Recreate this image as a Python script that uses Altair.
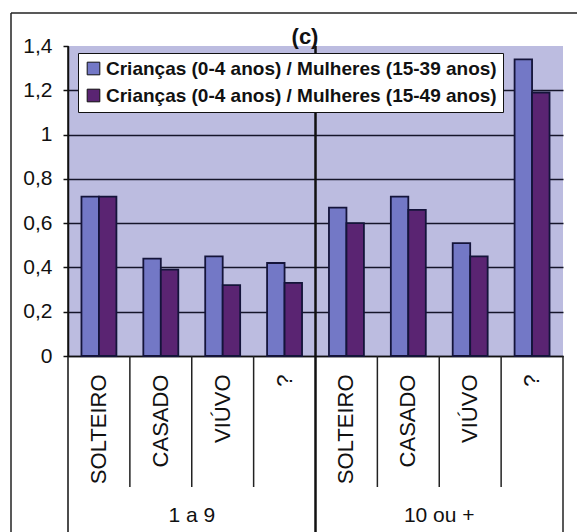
import altair as alt
import pandas as pd

# Razão crianças / mulheres por tamanho do fogo e estado civil
groups = ["1 a 9", "10 ou +"]
statuses = ["SOLTEIRO", "CASADO", "VIÚVO", "?"]
series = [
    "Crianças (0-4 anos) / Mulheres (15-39 anos)",
    "Crianças (0-4 anos) / Mulheres (15-49 anos)",
]
ratio_15_39 = [0.72, 0.44, 0.45, 0.42, 0.67, 0.72, 0.51, 1.34]
ratio_15_49 = [0.72, 0.39, 0.32, 0.33, 0.60, 0.66, 0.45, 1.19]
y_ticks = [0, 0.2, 0.4, 0.6, 0.8, 1.0, 1.2, 1.4]
colors = ["#7378c6", "#5a2472"]

FONT = "Liberation Sans"
W, H = 495, 310          # plot area
BOTTOM = 486             # down to the bottom edge of the canvas

keys = [f"{g}|{s}" for g in groups for s in statuses]
rows = []
for i, k in enumerate(keys):
    rows.append({"key": k, "serie": series[0], "valor": ratio_15_39[i]})
    rows.append({"key": k, "serie": series[1], "valor": ratio_15_49[i]})
bars_df = pd.DataFrame(rows)

x_scale = alt.Scale(domain=keys, paddingInner=0, paddingOuter=0)

bars = alt.Chart(bars_df).mark_bar(stroke="#14143a", strokeWidth=1.8).encode(
    x=alt.X(
        "key:N",
        scale=x_scale,
        sort=keys,
        axis=alt.Axis(
            title=None,
            labelExpr="split(datum.value, '|')[1]",
            labelAngle=270,
            labelAlign="right",
            labelBaseline="middle",
            labelPadding=18,
            labelFont=FONT,
            labelFontSize=22,
            labelColor="#111111",
            ticks=False,
            domainColor="#111111",
            domainWidth=1.5,
        ),
    ),
    xOffset=alt.XOffset(
        "serie:N", sort=series, scale=alt.Scale(paddingOuter=0.77, paddingInner=0)
    ),
    y=alt.Y(
        "valor:Q",
        scale=alt.Scale(domain=[0, 1.4], nice=False),
        axis=alt.Axis(
            title=None,
            values=y_ticks,
            labelExpr="replace(format(datum.value, '.1~f'), '.', ',')",
            labelFont=FONT,
            labelFontSize=21,
            labelColor="#111111",
            labelPadding=11,
            tickSize=5,
            tickColor="#111111",
            tickWidth=1.5,
            domainColor="#111111",
            domainWidth=1.5,
            grid=True,
            gridColor="#15152a",
            gridWidth=1.4,
            gridOpacity={"condition": {"test": "datum.value >= 1.39", "value": 0}, "value": 1},
        ),
    ),
    color=alt.Color(
        "serie:N",
        sort=series,
        scale=alt.Scale(domain=series, range=colors),
        legend=alt.Legend(
            title=None,
            orient="none",
            legendX=10,
            legendY=7,
            direction="vertical",
            fillColor="white",
            strokeColor="#111111",
            padding=6,
            rowPadding=7,
            symbolType="square",
            symbolSize=160,
            symbolStrokeColor="#111111",
            symbolStrokeWidth=1,
            symbolOpacity=1,
            labelFont=FONT,
            labelFontSize=19,
            labelFontWeight="bold",
            labelColor="#111111",
            labelOffset=3,
            labelLimit=500,
        ),
    ),
)

# separators between categories below the plot
inner_df = pd.DataFrame({"key": [k for i, k in enumerate(keys) if i % 4 != 0]})
inner_rules = alt.Chart(inner_df).mark_rule(color="#222222", strokeWidth=1.5).encode(
    x=alt.X("key:N", scale=x_scale, bandPosition=0),
    y=alt.value(H),
    y2=alt.value(H + 131),
)

# full-height lines: left edge and the split between the two groups
full_df = pd.DataFrame({"key": [keys[0], keys[4]], "w": [1.5, 2.5]})
full_rules = alt.Chart(full_df).mark_rule(color="#111111").encode(
    x=alt.X("key:N", scale=x_scale, bandPosition=0),
    y=alt.value(0),
    y2=alt.value(BOTTOM),
    strokeWidth=alt.StrokeWidth("w:Q", scale=None),
)

right_df = pd.DataFrame({"key": [keys[-1]]})
right_rule = alt.Chart(right_df).mark_rule(color="#222222", strokeWidth=1.5).encode(
    x=alt.X("key:N", scale=x_scale, bandPosition=1),
    y=alt.value(H),
    y2=alt.value(BOTTOM),
)

# group labels centred under each group of four categories
group_df = pd.DataFrame({"grupo": groups, "anchor": [keys[2], keys[6]]})
group_text = alt.Chart(group_df).mark_text(
    font=FONT, fontSize=21, color="#111111", baseline="middle", align="center"
).encode(
    x=alt.X("anchor:N", scale=x_scale, bandPosition=0),
    y=alt.value(H + 160),
    text="grupo:N",
)

# panel title above the plot
title_text = alt.Chart(pd.DataFrame({"t": ["(c)"]})).mark_text(
    font=FONT, fontSize=22, fontWeight="bold", color="#111111",
    align="center", baseline="middle",
).encode(x=alt.value(237), y=alt.value(-9), text="t:N")

# outer frame (top and left edges)
frame_top = alt.Chart(pd.DataFrame({"f": [0]})).mark_rule(color="#222222", strokeWidth=1.5).encode(
    x=alt.value(-57), x2=alt.value(509), y=alt.value(-33)
)
frame_left = alt.Chart(pd.DataFrame({"f": [0]})).mark_rule(color="#222222", strokeWidth=1.5).encode(
    x=alt.value(-57), y=alt.value(-33), y2=alt.value(BOTTOM)
)

chart = (
    alt.layer(bars, inner_rules, full_rules, right_rule, group_text, title_text,
              frame_top, frame_left)
    .properties(
        width=W,
        height=H,
        autosize=alt.AutoSizeParams(type="none"),
        padding={"left": 68, "top": 46, "right": 18, "bottom": 176},
        background="white",
    )
    .configure_view(fill="#bcbce0", stroke=None)
)

chart.save("out.html", embed_options={"renderer": "svg", "actions": False})
